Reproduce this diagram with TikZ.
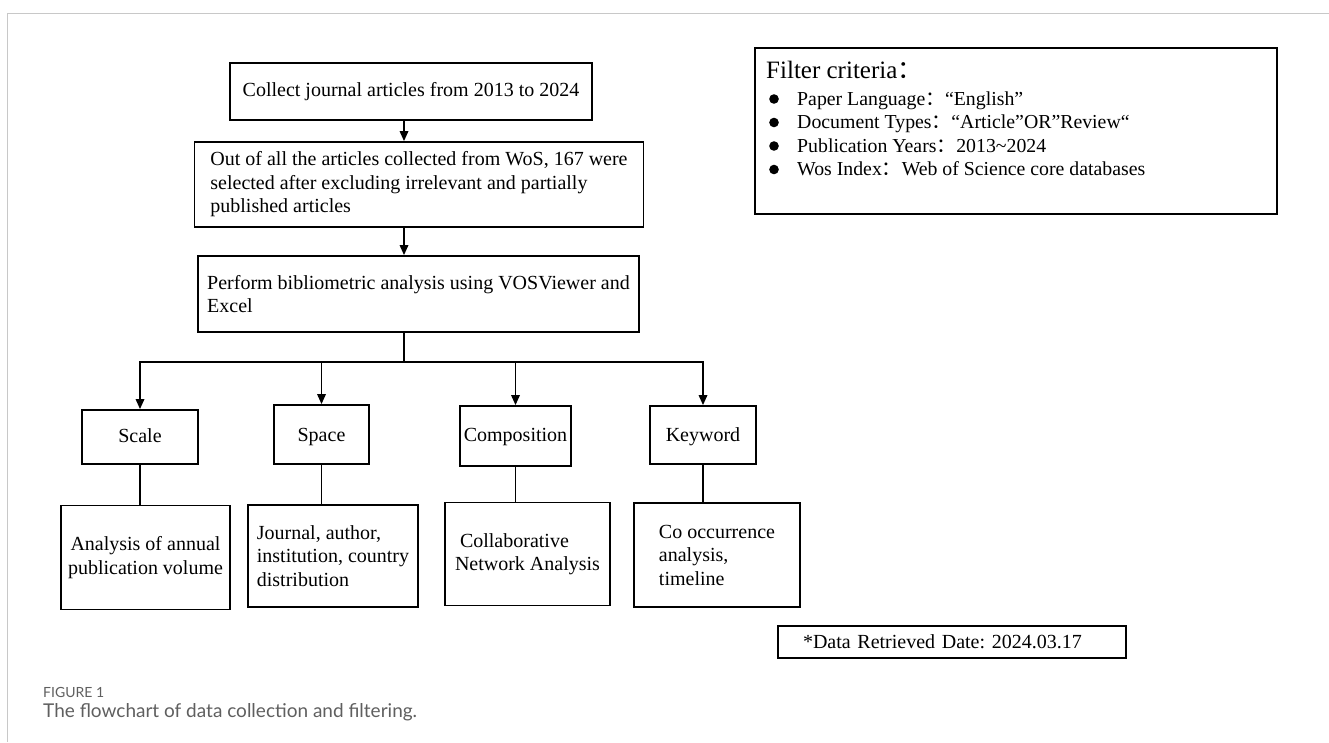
\documentclass[tikz,border=0pt]{standalone}
\usepackage{fontspec}
\setmainfont{Liberation Serif}
\newfontfamily\cjk{Noto Sans CJK SC}
\newfontfamily\capfont{Lato}
\usetikzlibrary{arrows.meta}
\definecolor{framegray}{RGB}{200,200,200}
\definecolor{capgray}{RGB}{95,95,95}
\newcommand{\fc}{{\cjk ：}}
\frenchspacing
\tikzset{
  box/.style={draw=black, line width=1.8pt, inner sep=0pt, font=\fontsize{20}{23.5}\selectfont},
  tag/.style={box, text height=14pt, text depth=4pt},
  arr/.style={line width=1.7pt, -{Triangle[length=10pt,width=8.5pt]}},
  link/.style={line width=1.7pt, line cap=rect},
  item/.style={anchor=base west, inner sep=0pt, font=\fontsize{19.8}{22}\selectfont}
}
\begin{document}
\begin{tikzpicture}[x=1pt,y=-1pt]
\useasboundingbox (0,0) rectangle (1329,742);
\draw[line width=1pt, framegray] (1329,13) -- (7,13) -- (7,742);
% main column
\node (collect) [box, minimum width=362, minimum height=57] at (411,91.5) {Collect journal articles from 2013 to 2024};
\node (select) [box, minimum width=449, minimum height=85, align=left] at (419,184.5) {Out of all the articles collected from WoS, 167 were\\ selected after excluding irrelevant and partially\\ published articles};
\node (analysis) [box, minimum width=441, minimum height=76, align=left] at (418.5,294) {Perform bibliometric analysis using VOSViewer and\\ Excel};
% four branches
\node (scale) [tag, minimum width=116, minimum height=54] at (140,437) {Scale};
\node (space) [tag, minimum width=95, minimum height=59, text depth=-1pt] at (321.5,434.5) {Space};
\node (comp) [tag, minimum width=111, minimum height=60] at (515.5,436) {Composition};
\node (keyword) [tag, minimum width=106, minimum height=58, text depth=2pt] at (703,435) {Keyword};
\node (scale-d) [box, minimum width=169, minimum height=104, align=center] at (145.5,557.5) {Analysis of annual\\ publication volume};
\node (space-d) [box, minimum width=170, minimum height=102, align=left] at (333,556) {Journal, author,\\ institution, country\\ distribution};
\node (comp-d) [box, minimum width=165, minimum height=103, align=left] at (527.5,554) {\hspace{5pt}Collaborative\\ Network Analysis};
\node (keyword-d) [box, minimum width=166, minimum height=104, align=left] at (717,555) {Co occurrence\\ analysis,\\ timeline};
% connectors
\coordinate (spine) at (404,362);
\draw[arr] (spine |- collect.south) -- (spine |- select.north);
\draw[arr] (spine |- select.south) -- (spine |- analysis.north);
\draw[link] (spine |- analysis.south) -- (spine);
\draw[link] (scale.north |- spine) -- (keyword.north |- spine);
\foreach \n in {scale,space,comp,keyword} {
  \draw[arr] (\n.north |- spine) -- (\n.north);
  \draw[link] (\n.south) -- (\n.south |- \n-d.north);
}
% filter criteria
\node (filter) [box, minimum width=522, minimum height=166] at (1016,131) {};
\node (crit) [anchor=base west, inner sep=0pt, font=\fontsize{25}{30}\selectfont] at (766,78) {Filter criteria\fc};
\foreach \t [count=\i] in {{Paper Language\fc“English”},{Document Types\fc“Article”OR”Review“},{Publication Years\fc 2013\textasciitilde2024},{Wos Index\fc Web of Science core databases}} {
  \fill (774,{99+23.5*(\i-1)}) circle (4.8);
  \node (item\i) [item] at (797,{105+23.5*(\i-1)}) {\t};
}
\node (date) [box, minimum width=348, minimum height=32, text width=298, align=left] at (952,642) {*Data Retrieved Date: 2024.03.17};
% caption
\node (figlab) [anchor=west, inner sep=0pt, font=\capfont\fontsize{14}{16}\selectfont, text=capgray] at (43,692) {FIGURE 1};
\node (figcap) [anchor=west, inner sep=0pt, font=\capfont\fontsize{19}{21}\selectfont, text=capgray] at (43,712) {The flowchart of data collection and filtering.};
\end{tikzpicture}
\end{document}
